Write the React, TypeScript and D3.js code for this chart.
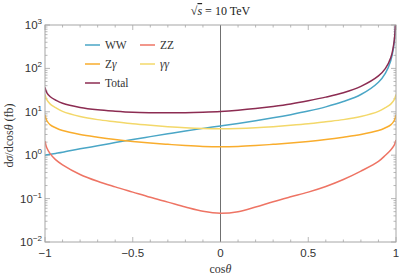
import { useEffect, useRef } from 'react';
import * as d3 from 'd3';

const COS = [-1, -0.99, -0.97, -0.94, -0.9, -0.8, -0.7, -0.6, -0.5, -0.4, -0.3, -0.2, -0.1, 0, 0.1, 0.2, 0.3, 0.4, 0.5, 0.6, 0.7, 0.8, 0.9, 0.94, 0.97, 0.99, 1];

const WW = [1.0, 1.02, 1.05, 1.1, 1.17, 1.4, 1.65, 1.95, 2.3, 2.68, 3.12, 3.62, 4.15, 4.72, 5.38, 6.2, 7.25, 8.6, 10.4, 13, 17.2, 25, 48, 78, 150, 400, 2000];
const ZZ = [2.1, 1.48, 1.07, 0.79, 0.6, 0.36, 0.25, 0.186, 0.141, 0.107, 0.083, 0.064, 0.051, 0.046, 0.05, 0.064, 0.085, 0.11, 0.141, 0.19, 0.275, 0.43, 0.72, 1.0, 1.32, 1.7, 2.24];
const ZA = [8.5, 6.3, 5.0, 4.3, 3.7, 3.0, 2.6, 2.3, 2.08, 1.91, 1.78, 1.67, 1.59, 1.56, 1.59, 1.67, 1.78, 1.91, 2.08, 2.3, 2.6, 3.0, 3.7, 4.3, 5.0, 6.3, 8.5];
const AA = [25, 19, 15, 12.5, 10.2, 7.8, 6.6, 5.9, 5.3, 4.88, 4.55, 4.3, 4.14, 4.08, 4.14, 4.3, 4.55, 4.88, 5.3, 5.9, 6.6, 7.8, 10.2, 12.5, 15, 19, 25];
const TOTAL = [36.6, 27.8, 22.2, 18.7, 15.7, 12.6, 11.1, 10.3, 9.75, 9.55, 9.5, 9.55, 9.8, 10.2, 10.9, 11.9, 13.3, 15.2, 18, 21.8, 27.5, 38.5, 67, 100, 175, 440, 2050];

const X_TICKS = [-1, -0.5, 0, 0.5, 1];
const X_LABELS = ['\u22121', '\u22120.5', '0', '0.5', '1'];
const Y_EXP = [-2, -1, 0, 1, 2, 3];

const SERIES = [
  { name: 'WW', values: WW, color: '#4aa6c6' },
  { name: 'ZZ', values: ZZ, color: '#ee7464' },
  { name: 'Z\u03b3', values: ZA, color: '#f9ad2d' },
  { name: '\u03b3\u03b3', values: AA, color: '#f3d86a' },
  { name: 'Total', values: TOTAL, color: '#8c2c52' },
];

const W = 399;
const H = 278;
const M = { left: 45, right: 3, top: 25, bottom: 36 };

export default function App() {
  const svgRef = useRef<SVGSVGElement>(null);

  useEffect(() => {
    if (!svgRef.current) return;
    const svg = d3.select(svgRef.current);
    svg.selectAll('*').remove();

    const x = d3.scaleLinear().domain([-1, 1]).range([M.left, W - M.right]);
    const y = d3.scaleLog().domain([1e-2, 1e3]).range([H - M.bottom, M.top]);
    const frame = '#a6a6a6';
    const serif = '"Liberation Serif", "DejaVu Serif", serif';
    const sans = '"Liberation Sans", Arial, sans-serif';

    svg.append('defs').append('clipPath').attr('id', 'plot-clip')
      .append('rect')
      .attr('x', M.left).attr('y', M.top)
      .attr('width', W - M.left - M.right).attr('height', H - M.top - M.bottom);

    // minor / major ticks on all four sides
    const ticks = svg.append('g').attr('stroke', frame).attr('stroke-width', 0.8);
    const xMinor = d3.range(-10, 11).map(i => i / 10);
    xMinor.forEach(v => {
      const major = X_TICKS.some(t => Math.abs(t - v) < 1e-9);
      const len = major ? 5 : 2.5;
      ticks.append('line').attr('x1', x(v)).attr('x2', x(v))
        .attr('y1', y(1e-2)).attr('y2', y(1e-2) - len);
      ticks.append('line').attr('x1', x(v)).attr('x2', x(v))
        .attr('y1', y(1e3)).attr('y2', y(1e3) + len);
    });
    for (let e = -2; e <= 3; e++) {
      for (let k = 1; k <= 9; k++) {
        const v = k * Math.pow(10, e);
        if (v > 1e3) break;
        const len = k === 1 ? 5 : 2.5;
        ticks.append('line').attr('x1', x(-1)).attr('x2', x(-1) + len)
          .attr('y1', y(v)).attr('y2', y(v));
        ticks.append('line').attr('x1', x(1)).attr('x2', x(1) - len)
          .attr('y1', y(v)).attr('y2', y(v));
      }
    }

    // axis at cos = 0
    svg.append('line')
      .attr('x1', x(0)).attr('x2', x(0))
      .attr('y1', y(1e-2)).attr('y2', y(1e3))
      .attr('stroke', '#707070').attr('stroke-width', 1);

    const line = d3.line<number>()
      .x((_d, i) => x(COS[i]))
      .y(d => y(d))
      .curve(d3.curveCatmullRom.alpha(0.5));

    const plot = svg.append('g').attr('clip-path', 'url(#plot-clip)');
    SERIES.forEach(s => {
      plot.append('path')
        .attr('d', line(s.values))
        .attr('fill', 'none')
        .attr('stroke', s.color)
        .attr('stroke-width', 1.5);
    });

    // frame
    svg.append('rect')
      .attr('x', M.left).attr('y', M.top)
      .attr('width', W - M.left - M.right).attr('height', H - M.top - M.bottom)
      .attr('fill', 'none').attr('stroke', frame).attr('stroke-width', 1);

    // tick labels
    X_TICKS.forEach((t, i) => {
      svg.append('text')
        .attr('x', x(t)).attr('y', y(1e-2) + 15)
        .attr('text-anchor', 'middle')
        .attr('font-family', sans).attr('font-size', 11.5).attr('fill', '#333')
        .text(X_LABELS[i]);
    });
    Y_EXP.forEach(e => {
      const tx = svg.append('text')
        .attr('x', M.left - 3).attr('y', y(Math.pow(10, e)) + 4)
        .attr('text-anchor', 'end')
        .attr('font-family', sans).attr('font-size', 11.5).attr('fill', '#333');
      tx.append('tspan').text('10');
      tx.append('tspan').attr('dy', -5).attr('font-size', 8)
        .text(e < 0 ? '\u2212' + Math.abs(e) : String(e));
    });

    // axis titles
    const xl = svg.append('text')
      .attr('x', x(0)).attr('y', H - 5)
      .attr('text-anchor', 'middle')
      .attr('font-family', serif).attr('font-size', 12).attr('fill', '#333');
    xl.append('tspan').text('cos');
    xl.append('tspan').attr('font-style', 'italic').text('\u03b8');

    const yl = svg.append('text')
      .attr('transform', `translate(13, ${(M.top + H - M.bottom) / 2 + 2}) rotate(-90)`)
      .attr('text-anchor', 'middle')
      .attr('font-family', serif).attr('font-size', 12).attr('fill', '#333');
    yl.append('tspan').text('d');
    yl.append('tspan').attr('font-style', 'italic').text('\u03c3');
    yl.append('tspan').text('/dcos');
    yl.append('tspan').attr('font-style', 'italic').text('\u03b8');
    yl.append('tspan').text(' (fb)');

    // title
    const title = svg.append('text')
      .attr('x', x(0)).attr('y', 15)
      .attr('text-anchor', 'middle')
      .attr('font-family', serif).attr('font-size', 12).attr('fill', '#222');
    title.append('tspan').text('\u221a');
    title.append('tspan').attr('font-style', 'italic').attr('text-decoration', 'overline').text('s');
    title.append('tspan').text('  = 10 TeV');

    // legend
    const legend = [
      { s: SERIES[0], col: 0, row: 0 },
      { s: SERIES[1], col: 1, row: 0 },
      { s: SERIES[2], col: 0, row: 1 },
      { s: SERIES[3], col: 1, row: 1 },
      { s: SERIES[4], col: 0, row: 2 },
    ];
    legend.forEach(({ s, col, row }) => {
      const lx = 85 + col * 55;
      const ly = 45 + row * 19;
      svg.append('line')
        .attr('x1', lx).attr('x2', lx + 15).attr('y1', ly).attr('y2', ly)
        .attr('stroke', s.color).attr('stroke-width', 1.5);
      const t = svg.append('text')
        .attr('x', lx + 20).attr('y', ly + 4)
        .attr('font-family', serif).attr('font-size', 11.5).attr('fill', '#333');
      if (s.name === 'Z\u03b3') {
        t.append('tspan').text('Z');
        t.append('tspan').attr('font-style', 'italic').text('\u03b3');
      } else if (s.name === '\u03b3\u03b3') {
        t.append('tspan').attr('font-style', 'italic').text('\u03b3\u03b3');
      } else {
        t.text(s.name);
      }
    });
  }, []);

  return (
    <div style={{ position: 'absolute', left: 0, top: 0 }}>
      <svg ref={svgRef} width={W} height={H} style={{ display: 'block', background: '#fff' }} />
    </div>
  );
}
